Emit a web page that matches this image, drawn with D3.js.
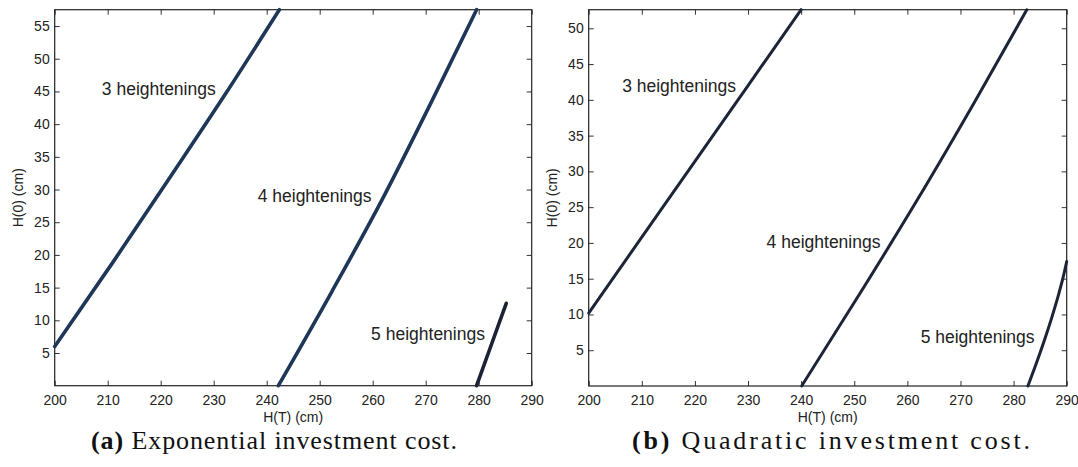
<!DOCTYPE html>
<html>
<head>
<meta charset="utf-8">
<script src="https://cdn.jsdelivr.net/npm/d3@7"></script>
<style>
    body { margin: 0; background: #fff; }
    svg { display: block; }
    .tick text { font-family: "Liberation Sans", Arial, Helvetica, sans-serif; }
</style>
</head>
<body>
<svg id="chart" width="1078" height="467"></svg>
<script>
// x ticks shared by both panels
const xTicks = [200, 210, 220, 230, 240, 250, 260, 270, 280, 290];

// (a) exponential investment cost: [H(T), H(0)]
const expThree = [[200, 6.0], [211.0, 18.9], [221.7, 31.8], [232.2, 44.6], [242.4, 57.5]];
const expFour = [[242.2, 0], [252.3, 14.4], [262.0, 28.8], [270.9, 43.1], [279.6, 57.5]];
const expFive = [[279.6, 0], [282.4, 6.3], [285.2, 12.6]];
const expYTicks = [5, 10, 15, 20, 25, 30, 35, 40, 45, 50, 55];
const expLabels = [
    { text: "3 heightenings", x: 208.9, y: 45.4 },
    { text: "4 heightenings", x: 238.3, y: 29.1 },
    { text: "5 heightenings", x: 259.7, y: 7.9 }
];

// (b) quadratic investment cost
const quadThree = [[200, 10.2], [210, 20.8], [220, 31.4], [230, 42.0], [240, 52.6]];
const quadFour = [[240.1, 0], [251.3, 13.2], [262.1, 26.3], [272.5, 39.5], [282.5, 52.6]];
const quadFive = [[282.7, 0], [284.3, 3.2], [285.8, 6.4], [287.2, 9.6], [288.4, 12.6], [289.3, 15.1], [290, 17.4]];
const quadYTicks = [5, 10, 15, 20, 25, 30, 35, 40, 45, 50];
const quadLabels = [
    { text: "3 heightenings", x: 206.3, y: 41.9 },
    { text: "4 heightenings", x: 233.5, y: 20.1 },
    { text: "5 heightenings", x: 262.5, y: 6.8 }
];

const svg = d3.select("#chart");

function drawPanel(opts) {
    const g = svg.append("g");
    const x = d3.scaleLinear().domain([200, 290]).range([opts.left, opts.right]);
    const y = d3.scaleLinear().domain([0, opts.yMax]).range([opts.bottom, opts.top]);
    const tick = 5;

    // inward ticks on all four sides, matlab style
    const bottomAxis = g.append("g")
        .attr("transform", `translate(0, ${opts.bottom})`)
        .call(d3.axisBottom(x).tickValues(xTicks).tickSizeInner(-tick).tickSizeOuter(0).tickPadding(9));
    const topAxis = g.append("g")
        .attr("transform", `translate(0, ${opts.top})`)
        .call(d3.axisTop(x).tickValues(xTicks).tickSizeInner(-tick).tickSizeOuter(0).tickFormat(""));
    const leftAxis = g.append("g")
        .attr("transform", `translate(${opts.left}, 0)`)
        .call(d3.axisLeft(y).tickValues(opts.yTicks).tickSizeInner(-tick).tickSizeOuter(0).tickPadding(5));
    const rightAxis = g.append("g")
        .attr("transform", `translate(${opts.right}, 0)`)
        .call(d3.axisRight(y).tickValues(opts.yTicks).tickSizeInner(-tick).tickSizeOuter(0).tickFormat(""));

    [bottomAxis, topAxis, leftAxis, rightAxis].forEach(a => {
        a.select(".domain").remove();
        a.selectAll(".tick line").attr("stroke", "#333");
        a.selectAll(".tick text").style("font-size", "14px").attr("fill", "#222");
    });

    g.append("rect")
        .attr("x", opts.left)
        .attr("y", opts.top)
        .attr("width", opts.right - opts.left)
        .attr("height", opts.bottom - opts.top)
        .attr("fill", "none")
        .attr("stroke", "#222")
        .attr("stroke-width", 1.2);

    const line = d3.line()
        .x(d => x(d[0]))
        .y(d => y(d[1]))
        .curve(d3.curveMonotoneX);

    g.selectAll(".curve")
        .data(opts.series)
        .join("path")
        .attr("class", "curve")
        .attr("d", d => line(d.values))
        .attr("fill", "none")
        .attr("stroke", d => d.color)
        .attr("stroke-width", opts.lineWidth)
        .attr("stroke-linecap", "round");

    g.selectAll(".note")
        .data(opts.labels)
        .join("text")
        .attr("class", "note")
        .attr("x", d => x(d.x))
        .attr("y", d => y(d.y))
        .attr("dy", "0.35em")
        .attr("fill", "#222")
        .style("font-family", '"Liberation Sans", Arial, Helvetica, sans-serif')
        .style("font-size", "17.5px")
        .text(d => d.text);

    // axis titles
    g.append("text")
        .attr("x", (opts.left + opts.right) / 2)
        .attr("y", opts.bottom + 31)
        .attr("dy", "0.35em")
        .attr("text-anchor", "middle")
        .attr("fill", "#222")
        .style("font-family", '"Liberation Sans", Arial, sans-serif')
        .style("font-size", "14px")
        .text("H(T) (cm)");

    g.append("text")
        .attr("transform", `translate(${opts.left - 37}, ${(opts.top + opts.bottom) / 2}) rotate(-90)`)
        .attr("dy", "0.35em")
        .attr("text-anchor", "middle")
        .attr("fill", "#222")
        .style("font-family", '"Liberation Sans", Arial, sans-serif')
        .style("font-size", "14px")
        .text("H(0) (cm)");

    // subfigure caption
    const cap = g.append("text")
        .attr("x", opts.capX)
        .attr("y", 449)
        .attr("fill", "#111")
        .attr("textLength", opts.capWidth)
        .attr("lengthAdjust", "spacing")
        .style("font-family", '"Liberation Serif", "Times New Roman", serif')
        .style("font-size", "26px");
    cap.append("tspan").style("font-weight", "bold").text(opts.capTag);
    cap.append("tspan").text(" " + opts.caption);
}

drawPanel({
    left: 54.7, right: 531.7, top: 9.7, bottom: 385.7,
    yMax: 57.5, yTicks: expYTicks, lineWidth: 3.6,
    series: [
        { values: expThree, color: "#1f3658" },
        { values: expFour, color: "#1f3658" },
        { values: expFive, color: "#1c2236" }
    ],
    labels: expLabels,
    capX: 91, capWidth: 366, capTag: "(a)", caption: "Exponential investment cost."
});

drawPanel({
    left: 588.7, right: 1066.7, top: 9.7, bottom: 386,
    yMax: 52.6, yTicks: quadYTicks, lineWidth: 3,
    series: [
        { values: quadThree, color: "#1c2438" },
        { values: quadFour, color: "#1c2438" },
        { values: quadFive, color: "#1c2438" }
    ],
    labels: quadLabels,
    capX: 632, capWidth: 398, capTag: "(b)", caption: "Quadratic investment cost."
});
</script>
</body>
</html>
